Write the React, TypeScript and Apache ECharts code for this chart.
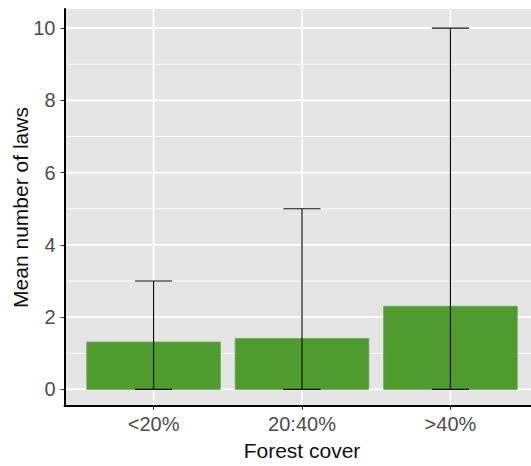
import React, { useEffect, useRef } from "react";
import * as echarts from "echarts";

const categories = ["<20%", "20:40%", ">40%"];
const meanValues = [1.31, 1.41, 2.3];
const errLow = [0, 0, 0];
const errHigh = [3, 5, 10];
const yMajorTicks = [0, 2, 4, 6, 8, 10];
const yMinorTicks = [1, 3, 5, 7, 9];
const xPositions = [1, 2, 3];

const FONT = "Liberation Sans";

export default function App() {
  const ref = useRef<HTMLDivElement>(null);
  useEffect(() => {
    if (!ref.current) return;
    const chart = echarts.init(ref.current, null, { renderer: "svg" });

    const gridData = [
      ...yMajorTicks.map((v) => ["h", v, 1.6]),
      ...yMinorTicks.map((v) => ["h", v, 0.8]),
      ...xPositions.map((v) => ["v", v, 1.6]),
    ];

    chart.setOption({
      animation: false,
      backgroundColor: "#ffffff",
      textStyle: { fontFamily: FONT },
      grid: {
        left: 64.5,
        top: 9,
        width: 475,
        height: 397,
        containLabel: false,
        outerBoundsMode: "none",
        show: true,
        backgroundColor: "#e5e5e5",
        borderWidth: 0,
      },
      xAxis: {
        type: "value",
        min: 0.4,
        max: 3.6,
        z: 10,
        name: "Forest cover",
        nameLocation: "middle",
        nameGap: 34,
        nameTextStyle: { fontFamily: FONT, fontSize: 21, color: "#111" },
        axisLine: { show: true, onZero: false, lineStyle: { color: "#000", width: 2 } },
        axisTick: { show: true, length: 4, customValues: xPositions, lineStyle: { color: "#333", width: 1 } },
        axisLabel: {
          customValues: xPositions,
          margin: 8,
          fontFamily: FONT,
          fontSize: 20,
          color: "#4d4d4d",
          formatter: (v: number) => categories[Math.round(v) - 1] ?? "",
        },
        splitLine: { show: false },
      },
      yAxis: {
        type: "value",
        min: -0.46,
        max: 10.53,
        z: 10,
        name: "Mean number of laws",
        nameLocation: "middle",
        nameGap: 34,
        nameMoveOverlap: false,
        nameTextStyle: { fontFamily: FONT, fontSize: 21, color: "#111" },
        axisLine: { show: true, onZero: false, lineStyle: { color: "#000", width: 2 } },
        axisTick: { show: true, length: 4, customValues: yMajorTicks, lineStyle: { color: "#333", width: 1 } },
        axisLabel: {
          customValues: yMajorTicks,
          margin: 9,
          fontFamily: FONT,
          fontSize: 20,
          color: "#4d4d4d",
        },
        splitLine: { show: false },
      },
      series: [
        {
          type: "custom",
          z: 1,
          silent: true,
          data: gridData,
          renderItem: (params: any, api: any) => {
            const cs = params.coordSys;
            const kind = gridData[params.dataIndex][0];
            const v = gridData[params.dataIndex][1] as number;
            const w = gridData[params.dataIndex][2] as number;
            if (kind === "h") {
              const y = api.coord([1, v])[1];
              return {
                type: "line",
                shape: { x1: cs.x, y1: y, x2: cs.x + cs.width, y2: y },
                style: { stroke: "#ffffff", lineWidth: w },
              };
            }
            const x = api.coord([v, 0])[0];
            return {
              type: "line",
              shape: { x1: x, y1: cs.y, x2: x, y2: cs.y + cs.height - 1 },
              style: { stroke: "#ffffff", lineWidth: w },
            };
          },
        },
        {
          type: "custom",
          z: 2,
          data: xPositions.map((x, i) => [x, meanValues[i]]),
          renderItem: (params: any, api: any) => {
            const x = api.value(0);
            const v = api.value(1);
            const p1 = api.coord([x - 0.45, v]);
            const p2 = api.coord([x + 0.45, 0]);
            return {
              type: "rect",
              shape: { x: p1[0], y: p1[1], width: p2[0] - p1[0], height: p2[1] - p1[1] },
              style: { fill: "#4f9b2f", stroke: "#63a946", lineWidth: 0.8 },
            };
          },
        },
        {
          type: "custom",
          z: 3,
          data: xPositions.map((x, i) => [x, errLow[i], errHigh[i]]),
          renderItem: (params: any, api: any) => {
            const x = api.value(0);
            const lo = api.value(1);
            const hi = api.value(2);
            const pl = api.coord([x, lo]);
            const ph = api.coord([x, hi]);
            const half = api.size([0.125, 0])[0];
            const st = { stroke: "#111", lineWidth: 1.2 };
            return {
              type: "group",
              children: [
                { type: "line", shape: { x1: pl[0], y1: pl[1], x2: ph[0], y2: ph[1] }, style: st },
                { type: "line", shape: { x1: ph[0] - half, y1: ph[1], x2: ph[0] + half, y2: ph[1] }, style: st },
                { type: "line", shape: { x1: pl[0] - half, y1: pl[1], x2: pl[0] + half, y2: pl[1] }, style: st },
              ],
            };
          },
        },
      ],
    });
    return () => chart.dispose();
  }, []);
  return (
    <div
      style={{ position: "fixed", left: 0, top: 0, width: 531, height: 466, overflow: "hidden" }}
    >
      <div ref={ref} style={{ width: 560, height: 466 }} />
    </div>
  );
}
